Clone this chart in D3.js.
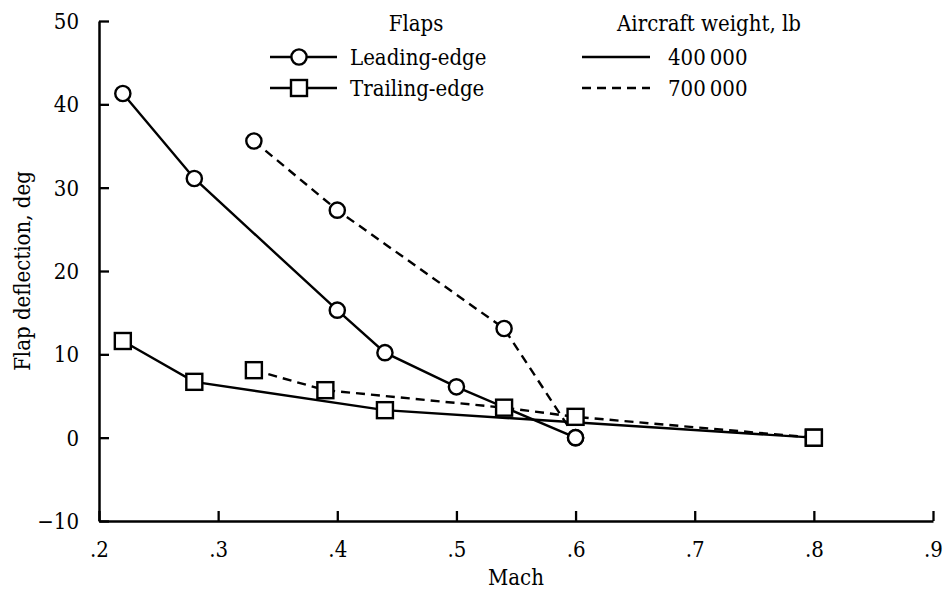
<!DOCTYPE html>
<html>
<head>
<meta charset="utf-8">
<script src="https://cdn.jsdelivr.net/npm/d3@7"></script>
<style>
  html, body { margin: 0; padding: 0; background: #fff; }
  svg text { font-family: "DejaVu Serif Condensed", "DejaVu Serif", "Liberation Serif", serif; font-stretch: condensed; fill: #000; }
</style>
</head>
<body>
<svg id="chart" width="946" height="593"></svg>
<script>
// Flap deflection schedules versus Mach number
const xTicks = [0.2, 0.3, 0.4, 0.5, 0.6, 0.7, 0.8, 0.9];
const xTickLabels = [".2", ".3", ".4", ".5", ".6", ".7", ".8", ".9"];
const yTicks = [-10, 0, 10, 20, 30, 40, 50];
const yTickLabels = ["\u221210", "0", "10", "20", "30", "40", "50"];

// Leading-edge flaps
const leadMach400 = [0.22, 0.28, 0.40, 0.44, 0.50, 0.60];
const leadDefl400 = [41.3, 31.1, 15.3, 10.2, 6.1, 0];
const leadMach700 = [0.33, 0.40, 0.54, 0.60];
const leadDefl700 = [35.6, 27.3, 13.1, 0];

// Trailing-edge flaps
const trailMach400 = [0.22, 0.28, 0.44, 0.80];
const trailDefl400 = [11.6, 6.7, 3.3, 0];
const trailMach700 = [0.33, 0.39, 0.54, 0.60, 0.80];
const trailDefl700 = [8.1, 5.7, 3.6, 2.5, 0];

const flapTypes = ["Leading-edge", "Trailing-edge"];
const weights = ["400\u2009000", "700\u2009000"];

const series = [
  { mach: leadMach400, defl: leadDefl400, marker: "circle", dashed: false },
  { mach: leadMach700, defl: leadDefl700, marker: "circle", dashed: true },
  { mach: trailMach400, defl: trailDefl400, marker: "square", dashed: false },
  { mach: trailMach700, defl: trailDefl700, marker: "square", dashed: true }
];

const FONT = "'DejaVu Serif Condensed', 'DejaVu Serif', 'Liberation Serif', serif";
const svg = d3.select("#chart").attr("font-family", FONT);
const FS = 22;
const STROKE = 2.4;
const DASH = "9,6";
const R = 7.6;      // circle marker radius
const SQ = 16;      // square marker side

const x = d3.scaleLinear().domain([0.2, 0.9]).range([99, 933]);
const y = d3.scaleLinear().domain([-10, 50]).range([521, 21]);

// Axes: ticks point into the plot
const xAxis = d3.axisBottom(x).tickValues(xTicks).tickSize(-10).tickSizeOuter(0)
  .tickFormat((d, i) => xTickLabels[i]);
const gx = svg.append("g").attr("transform", `translate(0,${y(-10)})`).call(xAxis);
const yAxis = d3.axisLeft(y).tickValues(yTicks).tickSize(-10).tickSizeOuter(0)
  .tickFormat((d, i) => yTickLabels[i]);
const gy = svg.append("g").attr("transform", `translate(${x(0.2)},0)`).call(yAxis);

[gx, gy].forEach(g => {
  g.attr("font-family", FONT).attr("font-size", FS);
  g.select(".domain").attr("stroke", "#000").attr("stroke-width", 2.5);
  g.selectAll(".tick line").attr("stroke", "#000").attr("stroke-width", 2.3);
  g.selectAll(".tick text").attr("fill", "#000");
});
gx.selectAll(".tick text").attr("y", 20).attr("dy", "0.71em");
gy.selectAll(".tick text").attr("x", -20).attr("dy", "0.34em");

// Axis titles
svg.append("text").attr("x", (x(0.2) + x(0.9)) / 2).attr("y", 585)
  .attr("text-anchor", "middle").attr("font-size", FS).text("Mach");
svg.append("text").attr("transform", `translate(30,${y(20)}) rotate(-90)`)
  .attr("text-anchor", "middle").attr("font-size", FS).text("Flap deflection, deg");

// Series lines
const line = d3.line().x(d => x(d[0])).y(d => y(d[1]));
series.forEach(s => {
  const pts = s.mach.map((m, i) => [m, s.defl[i]]);
  svg.append("path").datum(pts).attr("d", line)
    .attr("fill", "none").attr("stroke", "#000").attr("stroke-width", STROKE)
    .attr("stroke-dasharray", s.dashed ? DASH : null);
});

function drawMarker(g, kind, cx, cy) {
  if (kind === "circle") {
    g.append("circle").attr("cx", cx).attr("cy", cy).attr("r", R)
      .attr("fill", "#fff").attr("stroke", "#000").attr("stroke-width", STROKE);
  } else {
    g.append("rect").attr("x", cx - SQ / 2).attr("y", cy - SQ / 2)
      .attr("width", SQ).attr("height", SQ)
      .attr("fill", "#fff").attr("stroke", "#000").attr("stroke-width", STROKE);
  }
}

// Series markers
series.forEach(s => {
  const g = svg.append("g");
  s.mach.forEach((m, i) => drawMarker(g, s.marker, x(m), y(s.defl[i])));
});

// Legend: flap types
const legend = svg.append("g");
legend.append("text").attr("x", 416).attr("y", 31).attr("text-anchor", "middle")
  .attr("font-size", FS).text("Flaps");
const rowY = [57, 88];
flapTypes.forEach((name, i) => {
  legend.append("line").attr("x1", 270).attr("x2", 337).attr("y1", rowY[i]).attr("y2", rowY[i])
    .attr("stroke", "#000").attr("stroke-width", STROKE);
  drawMarker(legend, i === 0 ? "circle" : "square", 299, rowY[i]);
  legend.append("text").attr("x", 350).attr("y", rowY[i] + 8)
    .attr("font-size", FS).text(name);
});

// Legend: aircraft weights
legend.append("text").attr("x", 709).attr("y", 31).attr("text-anchor", "middle")
  .attr("font-size", FS).text("Aircraft weight, lb");
weights.forEach((w, i) => {
  legend.append("line").attr("x1", 582).attr("x2", 650).attr("y1", rowY[i]).attr("y2", rowY[i])
    .attr("stroke", "#000").attr("stroke-width", STROKE)
    .attr("stroke-dasharray", i === 1 ? DASH : null);
  legend.append("text").attr("x", 668).attr("y", rowY[i] + 8)
    .attr("font-size", FS).text(w);
});
</script>
</body>
</html>
